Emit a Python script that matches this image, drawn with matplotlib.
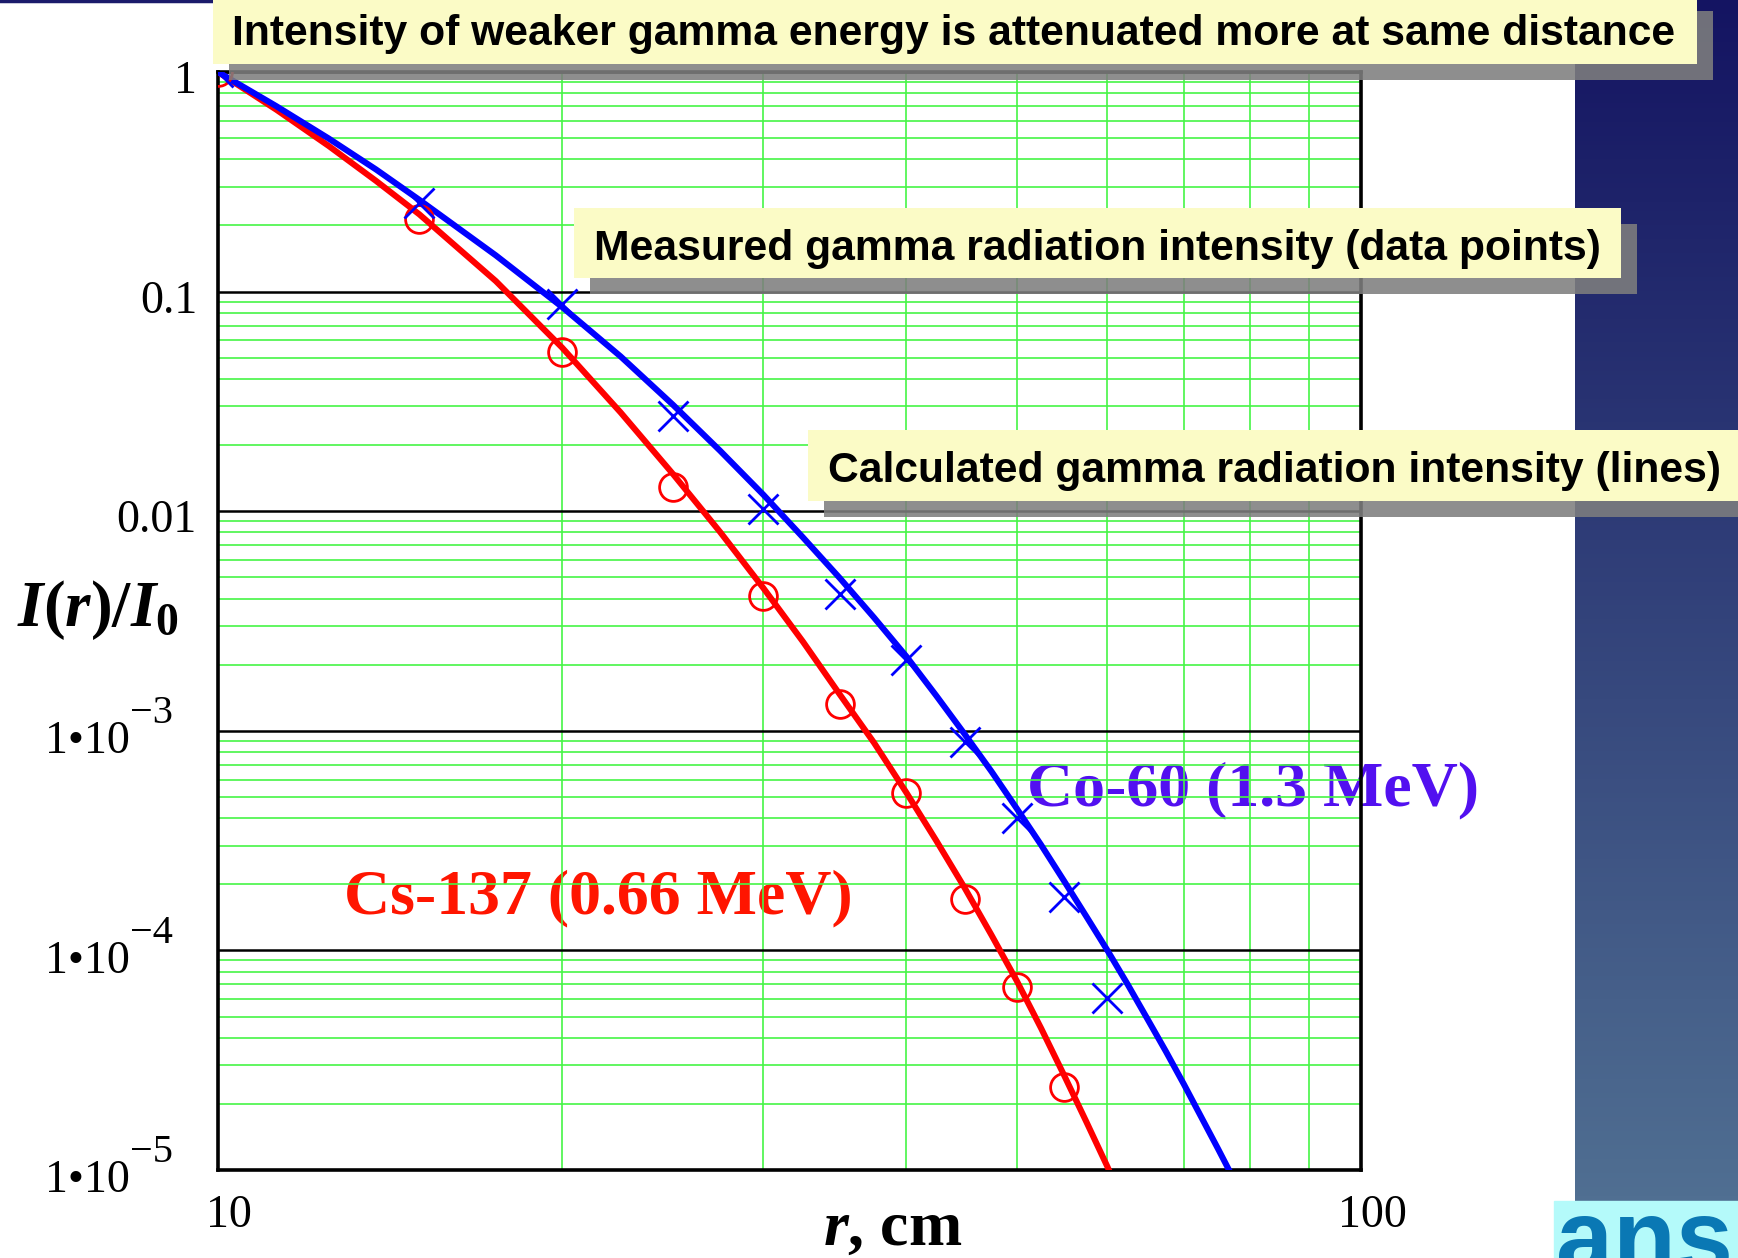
import numpy as np
import matplotlib
matplotlib.use('Agg')
import matplotlib.pyplot as plt
from matplotlib.patches import Rectangle
from matplotlib.ticker import LogLocator

# --- data ---
# measured points
r_co_meas = [10, 15, 20, 25, 30, 35, 40, 45, 50, 55, 60]
co60_meas = [1.0, 0.252, 0.0878, 0.0272, 0.0102, 0.0042, 0.0021, 8.9e-4, 4.0e-4, 1.75e-4, 6.1e-5]
r_cs_meas = [10, 15, 20, 25, 30, 35, 40, 45, 50, 55]
cs137_meas = [1.0, 0.213, 0.0532, 0.0129, 0.0041, 1.33e-3, 5.2e-4, 1.72e-4, 6.8e-5, 2.4e-5]

# calculated lines, read as decades (log10 of I/I0)
r_co_calc = [10, 11.25, 12.5, 13.75, 15, 17.5, 20, 22.5, 25, 27.5, 30, 32.5, 35, 37.5, 40, 42.5,
             45, 47.5, 50, 52.5, 55, 57.5, 60, 62.5, 65, 67.5, 70, 72.5, 75, 77]
co60_calc_dec = [0, -0.156, -0.303, -0.444, -0.582, -0.835, -1.07, -1.295, -1.515, -1.725, -1.925,
                 -2.12, -2.305, -2.485, -2.66, -2.84, -3.015, -3.185, -3.355, -3.52, -3.685,
                 -3.845, -4.0, -4.155, -4.31, -4.46, -4.61, -4.76, -4.905, -5.02]
r_cs_calc = [10, 11.25, 12.5, 13.75, 15, 17.5, 20, 22.5, 25, 27.5, 30, 32.5, 35, 37.5, 40, 42.5,
             45, 47.5, 50, 52.5, 55, 57.5, 60, 61]
cs137_calc_dec = [0, -0.172, -0.337, -0.496, -0.648, -0.952, -1.255, -1.55, -1.83, -2.095, -2.35,
                  -2.595, -2.835, -3.055, -3.28, -3.50, -3.715, -3.93, -4.14, -4.355, -4.57,
                  -4.78, -4.985, -5.07]

ytick_vals = [1, 0.1, 0.01, 1e-3, 1e-4, 1e-5]
ytick_base = ['1', '0.1', '0.01', '1\u202210', '1\u202210', '1\u202210']
ytick_exp = ['', '', '', '\u22123', '\u22124', '\u22125']
xtick_vals = [10, 100]
xtick_text = ['10', '100']

notes = ['Intensity of weaker gamma energy is attenuated more at same distance',
         'Measured gamma radiation intensity (data points)',
         'Calculated gamma radiation intensity (lines)']

plt.rcParams['mathtext.fontset'] = 'custom'
plt.rcParams['mathtext.it'] = 'Liberation Serif:italic:bold'
plt.rcParams['mathtext.rm'] = 'Liberation Serif:bold'

W, H = 1738, 1258
fig = plt.figure(figsize=(W / 100, H / 100), dpi=100)
ax = fig.add_axes([218 / W, 1 - 1170 / H, (1361 - 218) / W, (1170 - 72) / H])

GREEN = '#45F545'
SERIF = 'Liberation Serif'

# --- curves and points ---
ax.plot(r_cs_calc, np.power(10.0, cs137_calc_dec), color='#FF0000', lw=4.4, zorder=3)
ax.plot(r_co_calc, np.power(10.0, co60_calc_dec), color='#0000FF', lw=4.4, zorder=3)
ax.plot(r_cs_meas, cs137_meas, ls='none', marker='o', ms=20, mfc='none', mec='#FF0000', mew=2, zorder=4)
ax.plot(r_co_meas, co60_meas, ls='none', marker='x', ms=21, mec='#0000FF', mew=2, zorder=4)

ax.set_xscale('log')
ax.set_yscale('log')
ax.set_xlim(10, 100)
ax.set_ylim(1e-5, 1)

ax.xaxis.set_minor_locator(LogLocator(base=10, subs=np.arange(2, 10), numticks=20))
ax.yaxis.set_minor_locator(LogLocator(base=10, subs=np.arange(2, 10), numticks=20))
ax.grid(which='minor', axis='both', color=GREEN, lw=1.2)
ax.grid(which='major', axis='y', color='black', lw=1.8)
ax.tick_params(which='both', length=0, labelleft=False, labelbottom=False)
for s in ax.spines.values():
    s.set_linewidth(2.6)

# --- tick labels (large superscripts like the original) ---
ytr = ax.get_yaxis_transform()
for v, base, ex in zip(ytick_vals, ytick_base, ytick_exp):
    if ex:
        ax.annotate(base, xy=(0, v), xycoords=ytr, xytext=(-88, -11), textcoords='offset pixels',
                    ha='right', va='center', fontsize=33, family=SERIF, annotation_clip=False)
        ax.annotate(ex, xy=(0, v), xycoords=ytr, xytext=(-88, 17), textcoords='offset pixels',
                    ha='left', va='center', fontsize=29, family=SERIF, annotation_clip=False)
    else:
        ax.annotate(base, xy=(0, v), xycoords=ytr, xytext=(-21, -10), textcoords='offset pixels',
                    ha='right', va='center', fontsize=33, family=SERIF, annotation_clip=False)

xtr = ax.get_xaxis_transform()
for v, t in zip(xtick_vals, xtick_text):
    ax.annotate(t, xy=(v, 0), xycoords=xtr, xytext=(11, -46), textcoords='offset pixels',
                ha='center', va='center', fontsize=33, family=SERIF, annotation_clip=False)

ax.annotate(r'$\mathit{r}$, cm', xy=(0.59, 0), xycoords='axes fraction', xytext=(0, -60),
            textcoords='offset pixels', ha='center', va='center', fontsize=46,
            family=SERIF, weight='bold')
ax.annotate(r'$\mathit{I(r)/I}_{\mathit{0}}$', xy=(0, 0.51), xycoords='axes fraction',
            xytext=(-120, 0), textcoords='offset pixels', ha='center', va='center',
            fontsize=47, family=SERIF)

# curve labels
ax.text(51.0, 4.55e-4, 'Co-60 (1.3 MeV)', color='#5210F0', fontsize=46, family=SERIF,
        weight='bold', va='baseline', ha='left', zorder=1.2, clip_on=False)
ax.text(12.9, 1.47e-4, 'Cs-137 (0.66 MeV)', color='#FF1500', fontsize=46, family=SERIF,
        weight='bold', va='baseline', ha='left', zorder=1.2, clip_on=False)

# --- overlay in pixel coordinates: slide background, callouts, logo ---
ov = fig.add_axes([0, 0, 1, 1], zorder=5)
ov.set_xlim(0, W)
ov.set_ylim(H, 0)
ov.axis('off')

top_c = np.array([20, 20, 98]) / 255
bot_c = np.array([80, 111, 146]) / 255
grad = np.linspace(0, 1, 256)[:, None, None] * (bot_c - top_c) + top_c
ov.imshow(grad, extent=[1575, W, 1201, 0], aspect='auto', zorder=0)
ov.add_patch(Rectangle((1554, 1201), W - 1554, H - 1201, color='#B4FAFA', zorder=1))
ov.text(1556, 1272, 'ans', color='#0A78B4', fontsize=74, weight='bold', family='Liberation Sans',
        va='baseline', ha='left', zorder=2)
ov.plot([0, 213], [1, 1], color='#1B1B6B', lw=2.5, zorder=1)

boxes = [(213, -5, 1697, 64, 232, 45),
         (574, 208, 1621, 278, 594, 260),
         (808, 430, 1760, 501, 828, 482)]
for (x0, y0, x1, y1, tx, ty), note in zip(boxes, notes):
    ov.add_patch(Rectangle((x0 + 16, y0 + 16), x1 - x0, y1 - y0, color='#7E7E7E', alpha=0.88, lw=0, zorder=3))
    ov.add_patch(Rectangle((x0, y0), x1 - x0, y1 - y0, color='#FBFBC6', lw=0, zorder=4))
    ov.text(tx, ty, note, fontsize=30.7, weight='bold', family='Liberation Sans',
            va='baseline', ha='left', color='black', zorder=5)

fig.savefig('out.png', dpi=100)
